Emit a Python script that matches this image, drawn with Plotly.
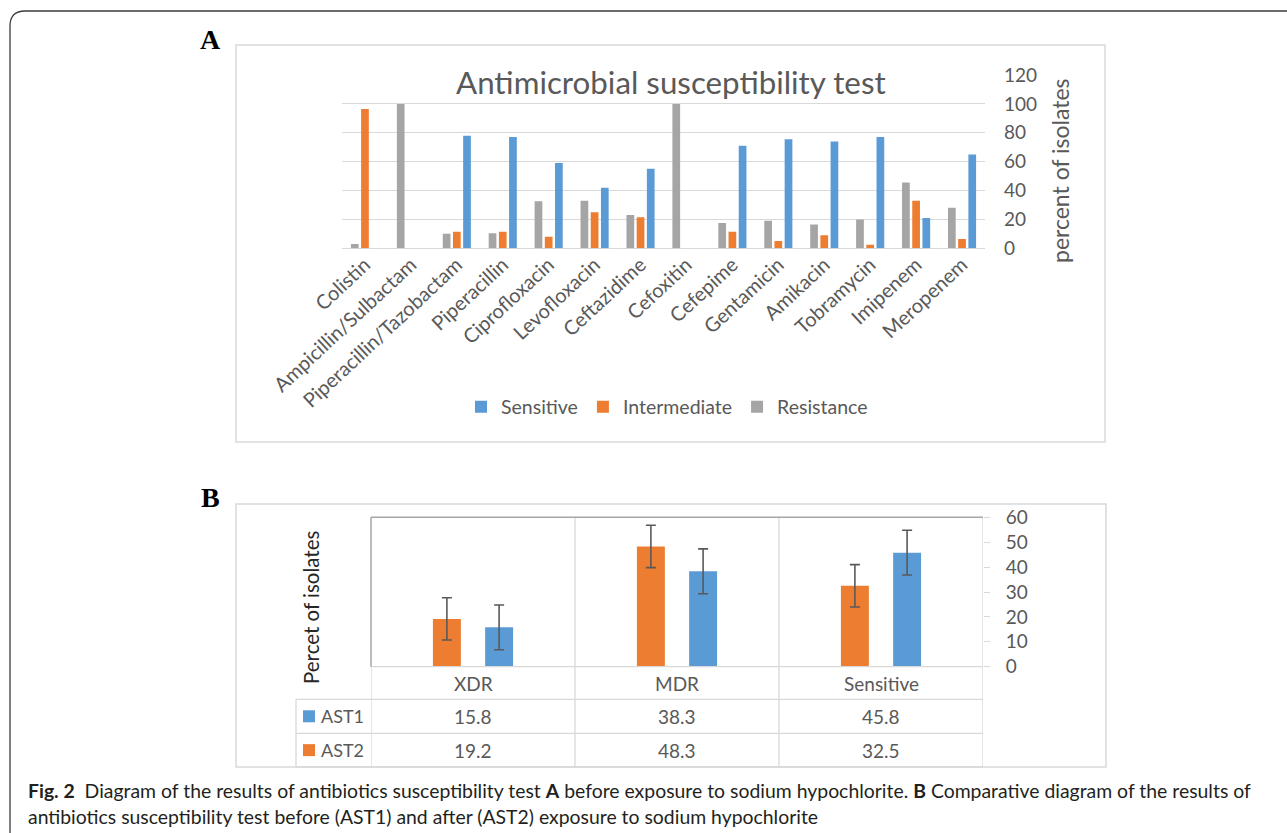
import plotly.graph_objects as go

W, H = 1287, 833

# ---------------- data ----------------
antibiotics = ["Colistin", "Ampicillin/Sulbactam", "Piperacillin/Tazobactam", "Piperacillin",
               "Ciprofloxacin", "Levofloxacin", "Ceftazidime", "Cefoxitin", "Cefepime",
               "Gentamicin", "Amikacin", "Tobramycin", "Imipenem", "Meropenem"]
sensitive = [0, 0, 78, 77, 59, 42, 55, 0, 71, 75.5, 74, 77, 21, 65]
intermediate = [96.5, 0, 11.5, 11.5, 8, 25, 21.5, 0, 11.5, 5, 9, 2.5, 33, 6.5]
resistance = [3, 100, 10, 10.5, 32.5, 33, 23, 100, 17.5, 19, 16.5, 20, 45.5, 28]
ticks_A = [0, 20, 40, 60, 80, 100, 120]

groups_B = ["XDR", "MDR", "Sensitive"]
ast1 = [15.8, 38.3, 45.8]
ast2 = [19.2, 48.3, 32.5]
err_ast1 = [9.0, 9.0, 9.0]
err_ast2 = [8.5, 8.5, 8.5]
ticks_B = [0, 10, 20, 30, 40, 50, 60]

title_A = "Antimicrobial susceptibility test"
caption1 = ("<b>Fig. 2</b>  Diagram of the results of antibiotics susceptibility test <b>A</b> before exposure "
            "to sodium hypochlorite. <b>B</b> Comparative diagram of the results of")
caption2 = "antibiotics susceptibility test before (AST1) and after (AST2) exposure to sodium hypochlorite"

BLUE, ORANGE, GRAY = "#5B9BD5", "#ED7D31", "#A5A5A5"
TXT = "#595959"
LIGHT = "#D9D9D9"
FONT = "Lato"


def px(x):
    return x / W


def py(y):
    return 1 - y / H


fig = go.Figure()

# ---------------- panel A ----------------
bw_A = 0.168
sp_A = 0.222
for name, vals, col, k in [("Resistance", resistance, GRAY, -1),
                           ("Intermediate", intermediate, ORANGE, 0),
                           ("Sensitive", sensitive, BLUE, 1)]:
    fig.add_trace(go.Bar(x=antibiotics, y=vals, name=name, marker_color=col,
                         marker_line_width=0, width=bw_A, offset=k * sp_A - bw_A / 2,
                         xaxis="x", yaxis="y", showlegend=True))

# ---------------- panel B ----------------
bw_B = 0.137
sp_B = 0.128
for name, vals, errs, col, k in [("AST2", ast2, err_ast2, ORANGE, -1),
                                 ("AST1", ast1, err_ast1, BLUE, 1)]:
    fig.add_trace(go.Bar(x=groups_B, y=vals, name=name, marker_color=col,
                         marker_line_width=0, width=bw_B, offset=k * sp_B - bw_B / 2,
                         error_y=dict(type="data", array=errs, visible=True,
                                      color="#595959", thickness=1.6, width=5),
                         xaxis="x2", yaxis="y2", showlegend=False))

shapes = []
annotations = []

# outer frame with rounded top-left corner
shapes.append(dict(type="path", xref="paper", yref="paper",
                   path=f"M {px(10)},{py(840)} L {px(10)},{py(26)} Q {px(10)},{py(11)} {px(25)},{py(11)} L {px(1295)},{py(11)}",
                   line=dict(color="#3a3a3a", width=1.3)))
# panel boxes
shapes.append(dict(type="rect", xref="paper", yref="paper", x0=px(236), x1=px(1105), y0=py(45), y1=py(442),
                   line=dict(color=LIGHT, width=1.5), layer="below"))
shapes.append(dict(type="rect", xref="paper", yref="paper", x0=px(236), x1=px(1106), y0=py(504), y1=py(767),
                   line=dict(color=LIGHT, width=1.5), layer="below"))

# panel B plot frame / table lines
yB_top, yB_axis, yR1, yR2, yR3 = 517.3, 666.7, 699.3, 733.3, 767
xB_l = 371
xleg_l = 296
xB_r = 983
# category separators (in x2 data coordinates)
for xc in [0.5, 1.5, 2.5]:
    shapes.append(dict(type="line", xref="x2", yref="paper", x0=xc, x1=xc, y0=py(yB_top), y1=py(yR3),
                       line=dict(color=LIGHT, width=1.3)))
shapes.append(dict(type="line", xref="x2", yref="paper", x0=-0.5, x1=-0.5, y0=py(yB_axis), y1=py(yR3),
                   line=dict(color=LIGHT, width=1.3)))
# horizontal table lines
shapes.append(dict(type="line", xref="x2", yref="paper", x0=-0.5, x1=2.5, y0=py(yB_axis), y1=py(yB_axis),
                   line=dict(color=LIGHT, width=1.3)))
for yy in [yR1, yR2, yR3]:
    shapes.append(dict(type="line", xref="paper", yref="paper", x0=px(xleg_l), x1=px(xB_r), y0=py(yy), y1=py(yy),
                       line=dict(color=LIGHT, width=1.3)))
shapes.append(dict(type="line", xref="paper", yref="paper", x0=px(xleg_l), x1=px(xleg_l), y0=py(yR1), y1=py(yR3),
                   line=dict(color=LIGHT, width=1.3)))
# plot frame top + left (darker)
shapes.append(dict(type="line", xref="paper", yref="paper", x0=px(xB_l), x1=px(xB_r), y0=py(yB_top), y1=py(yB_top),
                   line=dict(color="#A6A6A6", width=1.5)))
shapes.append(dict(type="line", xref="paper", yref="paper", x0=px(xB_l), x1=px(xB_l), y0=py(yB_top), y1=py(yB_axis),
                   line=dict(color="#A6A6A6", width=1.5)))

# table text: header categories
TS = 19
for i, g in enumerate(groups_B):
    annotations.append(dict(x=i, y=py((yB_axis + yR1) / 2), xref="x2", yref="paper", text=g, showarrow=False,
                            font=dict(family=FONT, size=TS, color=TXT), xanchor="center", yanchor="middle"))
for rowname, vals, col, yy in [("AST1", ast1, BLUE, (yR1 + yR2) / 2), ("AST2", ast2, ORANGE, (yR2 + yR3) / 2)]:
    for i, v in enumerate(vals):
        annotations.append(dict(x=i, y=py(yy), xref="x2", yref="paper", text=f"{v:.1f}", showarrow=False,
                                font=dict(family=FONT, size=TS, color=TXT), xanchor="center", yanchor="middle"))
    shapes.append(dict(type="rect", xref="paper", yref="paper", x0=px(303), x1=px(315), y0=py(yy - 6), y1=py(yy + 6),
                       fillcolor=col, line=dict(width=0)))
    annotations.append(dict(x=px(319), y=py(yy), xref="paper", yref="paper", text=rowname, showarrow=False,
                            font=dict(family=FONT, size=18, color=TXT), xanchor="left", yanchor="middle"))

# titles and labels
annotations.append(dict(x=px(671), y=py(82), xref="paper", yref="paper", text=title_A, showarrow=False,
                        font=dict(family=FONT, size=31.3, color=TXT), xanchor="center", yanchor="middle"))
annotations.append(dict(x=px(1060), y=py(171), xref="paper", yref="paper", text="percent of isolates",
                        showarrow=False, textangle=-90,
                        font=dict(family=FONT, size=23, color=TXT), xanchor="center", yanchor="middle"))
annotations.append(dict(x=px(311), y=py(608), xref="paper", yref="paper", text="Percet of isolates",
                        showarrow=False, textangle=-90,
                        font=dict(family=FONT, size=20.5, color="#262626"), xanchor="center", yanchor="middle"))
annotations.append(dict(x=px(210), y=py(40), xref="paper", yref="paper", text="<b>A</b>", showarrow=False,
                        font=dict(family="Liberation Serif", size=28, color="#000"), xanchor="center", yanchor="middle"))
annotations.append(dict(x=px(210), y=py(497), xref="paper", yref="paper", text="<b>B</b>", showarrow=False,
                        font=dict(family="Liberation Serif", size=28, color="#000"), xanchor="center", yanchor="middle"))
annotations.append(dict(x=px(26), y=py(790), xref="paper", yref="paper", text=caption1, showarrow=False,
                        font=dict(family=FONT, size=19.4, color="#231F20"), xanchor="left", yanchor="middle"))
annotations.append(dict(x=px(26), y=py(816), xref="paper", yref="paper", text=caption2, showarrow=False,
                        font=dict(family=FONT, size=19.4, color="#231F20"), xanchor="left", yanchor="middle"))

fig.update_layout(
    width=W, height=H,
    margin=dict(l=0, r=0, t=0, b=0),
    paper_bgcolor="white", plot_bgcolor="rgba(0,0,0,0)",
    barmode="group",
    font=dict(family=FONT, color=TXT),
    xaxis=dict(domain=[px(342), px(985)], type="category", range=[-0.5, 13.5], anchor="y",
               showgrid=False, showline=False, zeroline=False, ticks="", tickangle=-43,
               tickfont=dict(family=FONT, size=20, color=TXT), automargin=False),
    yaxis=dict(domain=[py(248.3), py(75)], range=[0, 120], tickvals=ticks_A, side="right", anchor="x",
               showgrid=True, gridcolor=LIGHT, gridwidth=1.3, zeroline=True, zerolinecolor=LIGHT,
               zerolinewidth=1.3, showline=False, ticks="", ticklabelstandoff=18,
               tickfont=dict(family=FONT, size=19, color=TXT), automargin=False),
    xaxis2=dict(domain=[px(xB_l), px(xB_r)], type="category", range=[-0.5, 2.5], anchor="y2",
                showgrid=False, showline=False, zeroline=False, showticklabels=False, ticks="",
                automargin=False),
    yaxis2=dict(domain=[py(yB_axis), py(yB_top)], range=[0, 60], tickvals=ticks_B, side="right", anchor="x2",
                showgrid=False, zeroline=False, showline=False, ticks="outside", ticklen=6,
                tickcolor=LIGHT, tickwidth=1.3, ticklabelstandoff=12,
                tickfont=dict(family=FONT, size=19, color=TXT), automargin=False),
    legend=dict(orientation="h", x=px(667), xanchor="center", y=py(407), yanchor="middle",
                traceorder="reversed", font=dict(family=FONT, size=19.5, color=TXT),
                itemwidth=30, bgcolor="rgba(0,0,0,0)"),
    shapes=shapes,
    annotations=annotations,
)

fig.write_html("out.html")
